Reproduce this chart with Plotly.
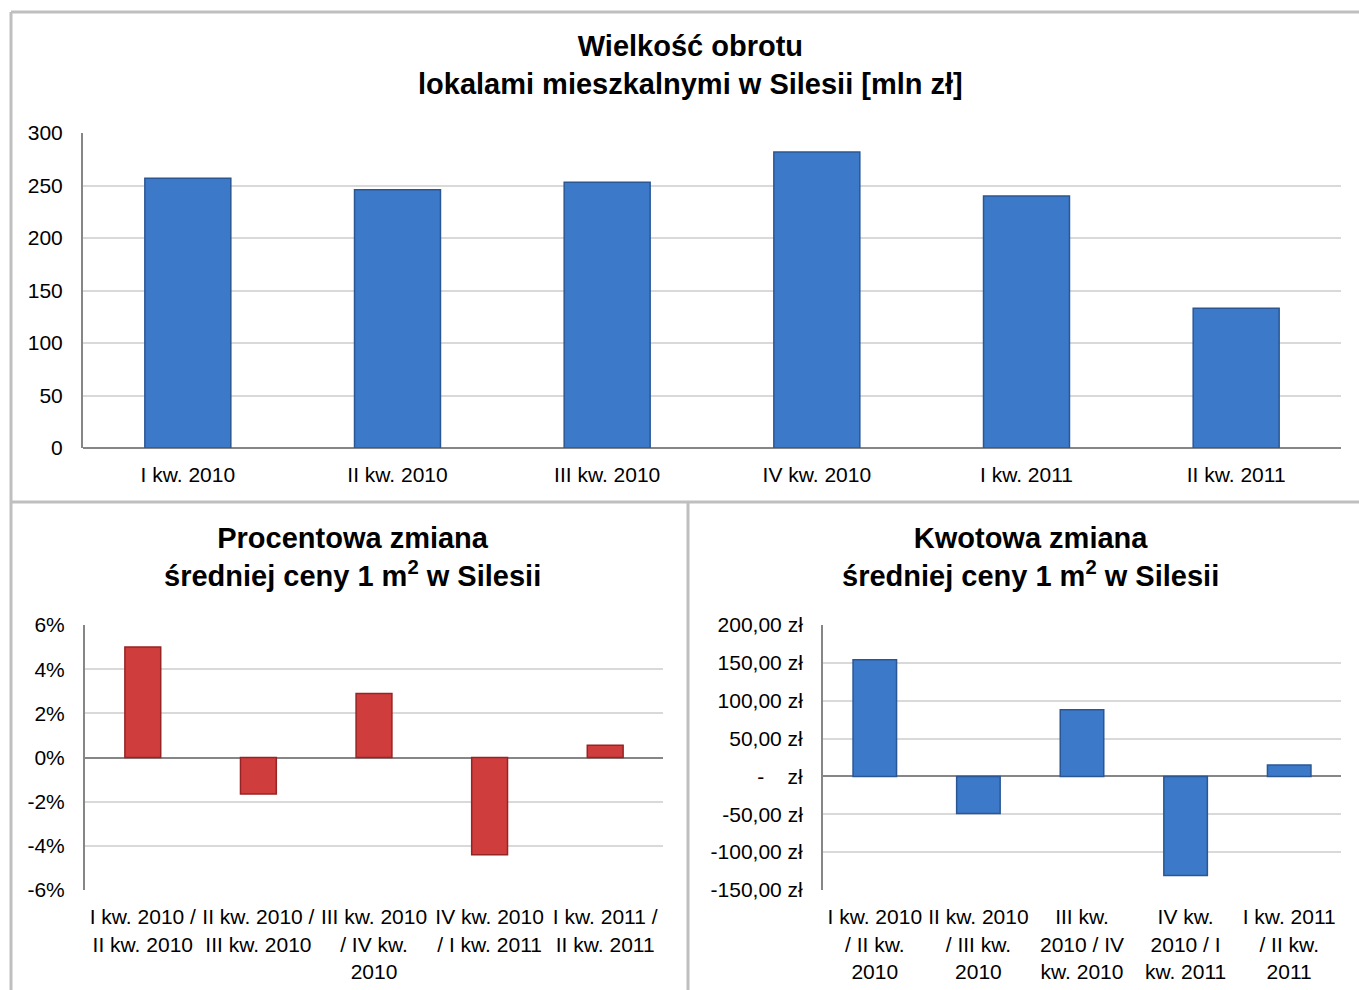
import plotly.graph_objects as go

# Obrót lokalami mieszkalnymi (mln zł) w kolejnych kwartałach
quarters = ["I kw. 2010", "II kw. 2010", "III kw. 2010", "IV kw. 2010", "I kw. 2011", "II kw. 2011"]
turnover = [257, 246, 253, 282, 240, 133]
turnover_ticks = [0, 50, 100, 150, 200, 250, 300]

# Zmiana średniej ceny 1 m2 między kolejnymi kwartałami
pct_labels = [
    "I kw. 2010 /<br>II kw. 2010",
    "II kw. 2010 /<br>III kw. 2010",
    "III kw. 2010<br>/ IV kw.<br>2010",
    "IV kw. 2010<br>/ I kw. 2011",
    "I kw. 2011 /<br>II kw. 2011",
]
pct_change = [5.0, -1.65, 2.9, -4.4, 0.55]
pct_tickvals = [6, 4, 2, 0, -2, -4, -6]
pct_ticktext = ["6%", "4%", "2%", "0%", "-2%", "-4%", "-6%"]

amt_labels = [
    "I kw. 2010<br>/ II kw.<br>2010",
    "II kw. 2010<br>/ III kw.<br>2010",
    "III kw.<br>2010 / IV<br>kw. 2010",
    "IV kw.<br>2010 / I<br>kw. 2011",
    "I kw. 2011<br>/ II kw.<br>2011",
]
amt_change = [154, -49, 88, -131, 15]
amt_tickvals = [200, 150, 100, 50, 0, -50, -100, -150]
amt_ticktext = ["200,00 zł", "150,00 zł", "100,00 zł", "50,00 zł", " -    zł",
                "-50,00 zł", "-100,00 zł", "-150,00 zł"]

W, H = 1359, 990
FONT = "Liberation Sans, Arial, sans-serif"
BLUE = "#3c79c8"
BLUE_EDGE = "#2a5794"
RED = "#cf3d3d"
RED_EDGE = "#962424"
GRID = "#d9d9d9"
AXIS = "#868686"
FRAME = "#bfbfbf"


def px_x(x):
    return x / W


def px_y(y):
    return 1 - y / H


fig = go.Figure()

fig.add_trace(go.Bar(
    x=quarters, y=turnover, width=0.41,
    marker=dict(color=BLUE, line=dict(color=BLUE_EDGE, width=1.5)),
    xaxis="x", yaxis="y", showlegend=False,
))
fig.add_trace(go.Bar(
    x=pct_labels, y=pct_change, width=0.31,
    marker=dict(color=RED, line=dict(color=RED_EDGE, width=1.5)),
    xaxis="x2", yaxis="y2", showlegend=False,
))
fig.add_trace(go.Bar(
    x=amt_labels, y=amt_change, width=0.42,
    marker=dict(color=BLUE, line=dict(color=BLUE_EDGE, width=1.5)),
    xaxis="x3", yaxis="y3", showlegend=False,
))

tickfont = dict(family=FONT, size=21, color="#000000")

yaxis_common = dict(
    showline=True, linecolor=AXIS, linewidth=2,
    showgrid=True, gridcolor=GRID, gridwidth=1.5,
    zeroline=True, zerolinecolor=AXIS, zerolinewidth=2,
    ticks="outside", ticklen=14, tickcolor="rgba(0,0,0,0)",
    tickfont=tickfont, automargin=False,
)
xaxis_common = dict(
    showline=False, showgrid=False, zeroline=False,
    ticks="outside", ticklen=8, tickcolor="rgba(0,0,0,0)",
    tickfont=tickfont, tickangle=0, automargin=False,
)

fig.update_layout(
    width=W, height=H,
    margin=dict(l=0, r=0, t=0, b=0, autoexpand=False),
    paper_bgcolor="white", plot_bgcolor="white",
    font=dict(family=FONT, color="#000000"),
    barmode="overlay",
    showlegend=False,
    xaxis=dict(domain=[px_x(83), px_x(1341)], anchor="y", **xaxis_common),
    yaxis=dict(domain=[px_y(448), px_y(133)], anchor="x", range=[0, 300],
               tickvals=turnover_ticks, **yaxis_common),
    xaxis2=dict(domain=[px_x(85), px_x(663)], anchor="y2", **xaxis_common),
    yaxis2=dict(domain=[px_y(890), px_y(625)], anchor="x2", range=[-6, 6],
                tickvals=pct_tickvals, ticktext=pct_ticktext, **yaxis_common),
    xaxis3=dict(domain=[px_x(823), px_x(1341)], anchor="y3", **xaxis_common),
    yaxis3=dict(domain=[px_y(890), px_y(625)], anchor="x3", range=[-150, 200],
                tickvals=amt_tickvals, ticktext=amt_ticktext, **yaxis_common),
)

# Panel titles
title_font = dict(family=FONT, size=29, color="#000000")
titles = [
    (690, 65, "<b>Wielkość obrotu<br>lokalami mieszkalnymi w Silesii [mln zł]</b>"),
    (352, 557, "<b>Procentowa zmiana<br>średniej ceny 1 m<sup>2</sup> w Silesii</b>"),
    (1030, 557, "<b>Kwotowa zmiana<br>średniej ceny 1 m<sup>2</sup> w Silesii</b>"),
]
for cx, cy, txt in titles:
    fig.add_annotation(
        x=px_x(cx), y=px_y(cy), xref="paper", yref="paper",
        text=txt, showarrow=False, font=title_font,
        xanchor="center", yanchor="middle", align="center",
    )

# Panel frames
frame = dict(color=FRAME, width=3)
fig.add_shape(type="line", xref="paper", yref="paper",
              x0=px_x(11), x1=px_x(1359), y0=px_y(12), y1=px_y(12), line=frame)
fig.add_shape(type="line", xref="paper", yref="paper",
              x0=px_x(11), x1=px_x(11), y0=px_y(12), y1=px_y(990), line=frame)
fig.add_shape(type="line", xref="paper", yref="paper",
              x0=px_x(11), x1=px_x(1359), y0=px_y(502), y1=px_y(502), line=frame)
fig.add_shape(type="line", xref="paper", yref="paper",
              x0=px_x(688), x1=px_x(688), y0=px_y(502), y1=px_y(990), line=frame)

fig.write_html("out.html")
